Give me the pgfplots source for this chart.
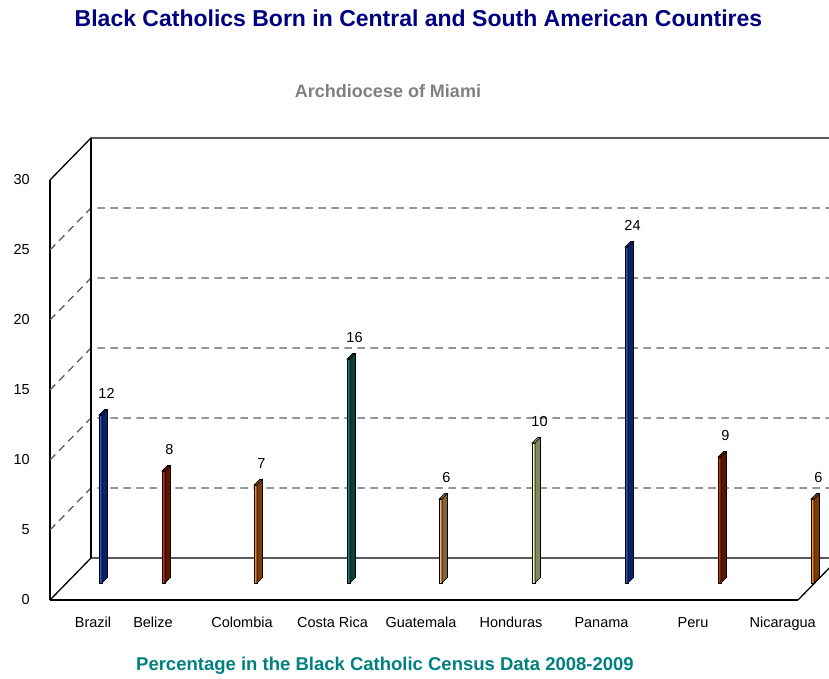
\documentclass[border=0pt]{standalone}
\usepackage{pgfplots}
\pgfplotsset{compat=1.18}
\usepackage{pgfplotstable}
\usepackage{fontspec}
\setmainfont{Liberation Sans}

\definecolor{titleblue}{RGB}{0,0,128}
\definecolor{subgray}{RGB}{128,128,128}
\definecolor{footteal}{RGB}{0,128,128}
\definecolor{gridgray}{RGB}{92,92,92}
\definecolor{blueF}{HTML}{2A56C6}\definecolor{blueS}{HTML}{0C2166}
\definecolor{redF}{HTML}{C8320F}\definecolor{redS}{HTML}{5E1200}
\definecolor{orgF}{HTML}{FF8A10}\definecolor{orgS}{HTML}{7A3E05}
\definecolor{tealF}{HTML}{1E7C74}\definecolor{tealS}{HTML}{0B403B}
\definecolor{tanF}{HTML}{F2B86A}\definecolor{tanS}{HTML}{86643A}
\definecolor{yelF}{HTML}{FFFF99}\definecolor{yelS}{HTML}{868660}

% bar position (left edge of front face) and value, one row per country
\pgfplotstableread{
pos val
99  12
162 8
254 7
347 16
439 6
532 10
625 24
718 9
811 6
}\bars

% side and top faces of a thin bar; \val is the bar value, 14pt per unit
\pgfdeclareplotmark{prism}{%
  \pgfmathsetlengthmacro{\hh}{14pt*\val}%
  \pgfpathmoveto{\pgfqpoint{3pt}{0pt}}%
  \pgfpathlineto{\pgfqpoint{8.5pt}{5.5pt}}%
  \pgfpathlineto{\pgfpoint{8.5pt}{5.5pt-\hh}}%
  \pgfpathlineto{\pgfpoint{3pt}{-\hh}}%
  \pgfpathclose
  \pgfpathmoveto{\pgfqpoint{0pt}{0pt}}%
  \pgfpathlineto{\pgfqpoint{5.5pt}{5.5pt}}%
  \pgfpathlineto{\pgfqpoint{8.5pt}{5.5pt}}%
  \pgfpathlineto{\pgfqpoint{3pt}{0pt}}%
  \pgfpathclose
  \pgfusepathqfillstroke
}

\pgfkeys{/pgf/number format/assume math mode=true}

\pgfplotsset{
  frame/.style={scale only axis, width=748pt, height=420pt,
    xmin=50, xmax=798, ymin=0, ymax=30, clip=false, anchor=south west},
  bar/.style n args={3}{
    ybar, bar width=3pt, bar shift=1.5pt, fill=#1, draw=black, line width=0.6pt,
    restrict expr to domain={\coordindex}{#3:#3}},
  cap/.style n args={3}{
    scatter, only marks, mark=prism,
    mark options={fill=#2, draw=black, line width=0.6pt},
    scatter/@pre marker code/.code={}, scatter/@post marker code/.code={},
    visualization depends on={\thisrow{val} \as \val},
    point meta=explicit,
    nodes near coords,
    every node near coord/.style={anchor=base, xshift=7.5pt, yshift=16.5pt,
      font=\fontsize{14.5}{16}\selectfont, text=black},
    restrict expr to domain={\coordindex}{#3:#3}},
}

\begin{document}
\begin{tikzpicture}[x=1pt,y=1pt]
\useasboundingbox (0,0) rectangle (829,679);

\node[anchor=base, text=titleblue, font=\fontsize{23}{26}\selectfont\bfseries]
  at (418.5,652) {Black Catholics Born in Central and South American Countires};
\node[anchor=base, text=subgray, font=\fontsize{18}{20}\selectfont\bfseries]
  at (388,581) {Archdiocese of Miami};
\node[anchor=base, text=footteal, font=\fontsize{18.5}{20}\selectfont\bfseries]
  at (385,8) {Percentage in the Black Catholic Census Data 2008-2009};

% walls, floor and gridlines
\begin{axis}[frame, at={(50pt,79pt)},
  axis x line*=bottom, axis y line*=left,
  axis line style={-, black, line width=1.3pt},
  major tick length=0pt,
  ytick={0,5,...,30},
  yticklabel style={inner sep=0pt, xshift=-20pt, font=\fontsize{14.5}{16}\selectfont},
  xtick={93,153,242,332.5,421,511,601.5,693,782.7},
  xticklabels={Brazil,Belize,Colombia,Costa Rica,Guatemala,Honduras,Panama,Peru,Nicaragua},
  xticklabel style={anchor=base, inner sep=0pt, yshift=-28pt, font=\fontsize{14.5}{16}\selectfont},
]
\pgfplotsinvokeforeach{5,10,15,20,25}{
  \draw[gridgray, line width=1.3pt, dash pattern=on 7.5pt off 5.5pt]
    (axis cs:50,#1) -- ++(41pt,42pt) -- ++(800pt,0pt);
}
\draw[black, line width=1.3pt] (axis cs:50,30) -- ++(41pt,42pt) -- ++(800pt,0pt);
\draw[black, line width=1.3pt] (axis cs:50,0) -- ++(41pt,42pt) -- ++(800pt,0pt);
\draw[black, line width=1.3pt] (axis cs:91,3) -- (axis cs:91,33);
\draw[black, line width=1.3pt] (axis cs:798,0) -- ++(41pt,42pt);
\end{axis}

% bars standing on the floor, halfway into the depth
\begin{axis}[frame, at={(50pt,96pt)}, hide axis]
\addplot[bar={blueF}{blueS}{0}] table[x=pos,y=val]{\bars};
\addplot[cap={blueF}{blueS}{0}] table[x=pos,y=val,meta=val]{\bars};
\addplot[bar={redF}{redS}{1}] table[x=pos,y=val]{\bars};
\addplot[cap={redF}{redS}{1}] table[x=pos,y=val,meta=val]{\bars};
\addplot[bar={orgF}{orgS}{2}] table[x=pos,y=val]{\bars};
\addplot[cap={orgF}{orgS}{2}] table[x=pos,y=val,meta=val]{\bars};
\addplot[bar={tealF}{tealS}{3}] table[x=pos,y=val]{\bars};
\addplot[cap={tealF}{tealS}{3}] table[x=pos,y=val,meta=val]{\bars};
\addplot[bar={tanF}{tanS}{4}] table[x=pos,y=val]{\bars};
\addplot[cap={tanF}{tanS}{4}] table[x=pos,y=val,meta=val]{\bars};
\addplot[bar={yelF}{yelS}{5}] table[x=pos,y=val]{\bars};
\addplot[cap={yelF}{yelS}{5}] table[x=pos,y=val,meta=val]{\bars};
\addplot[bar={blueF}{blueS}{6}] table[x=pos,y=val]{\bars};
\addplot[cap={blueF}{blueS}{6}] table[x=pos,y=val,meta=val]{\bars};
\addplot[bar={redF}{redS}{7}] table[x=pos,y=val]{\bars};
\addplot[cap={redF}{redS}{7}] table[x=pos,y=val,meta=val]{\bars};
\addplot[bar={orgF}{orgS}{8}] table[x=pos,y=val]{\bars};
\addplot[cap={orgF}{orgS}{8}] table[x=pos,y=val,meta=val]{\bars};
\end{axis}
\end{tikzpicture}
\end{document}
